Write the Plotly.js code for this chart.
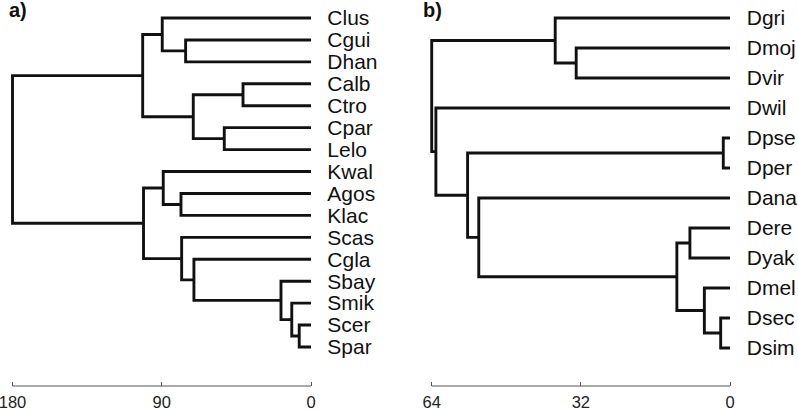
<!DOCTYPE html>
<html>
<head>
<meta charset="utf-8">
<script src="https://cdn.plot.ly/plotly-3.0.1.min.js"></script>
<style>html,body{margin:0;padding:0;background:#fff;}#chart{width:798px;height:409px;}</style>
</head>
<body>
<div id="chart"></div>
<script>
// ---- Panel a) data ----
const leavesA = ["Clus","Cgui","Dhan","Calb","Ctro","Cpar","Lelo","Kwal","Agos","Klac","Scas","Cgla","Sbay","Smik","Scer","Spar"];
// merges: [childA, childB]; indices < leaves.length are leaves, others refer to earlier merges
const mergesA = [[1,2],[3,4],[5,6],[0,16],[17,18],[19,20],[8,9],[7,22],[14,15],[13,24],[12,25],[11,26],[10,27],[23,28],[21,29]];
const heightsA = [75.6, 41.0, 52.3, 89.7, 71.0, 101.5, 78.4, 89.1, 7.1, 11.6, 18.1, 70.6, 78.0, 101.0, 180];
const ticksA = [180, 90, 0];

// ---- Panel b) data ----
const leavesB = ["Dgri","Dmoj","Dvir","Dwil","Dpse","Dper","Dana","Dere","Dyak","Dmel","Dsec","Dsim"];
const mergesB = [[1,2],[0,12],[4,5],[7,8],[10,11],[9,16],[15,17],[6,18],[14,19],[3,20],[13,21]];
const heightsB = [33.0, 37.5, 1.44, 8.6, 2.0, 5.5, 11.4, 53.9, 56.3, 63.1, 64];
const ticksB = [64, 32, 0];

function dendroSegments(leaves, merges, heights) {
  const n = leaves.length;
  const nodeX = [], nodeY = [];
  for (let i = 0; i < n; i++) { nodeX.push(0); nodeY.push(i); }
  const xs = [], ys = [];
  merges.forEach((m, k) => {
    const a = m[0], b = m[1], h = heights[k];
    xs.push(nodeX[a], h, h, nodeX[b], null);
    ys.push(nodeY[a], nodeY[a], nodeY[b], nodeY[b], null);
    nodeX.push(h);
    nodeY.push((nodeY[a] + nodeY[b]) / 2);
  });
  return {xs, ys};
}

const sA = dendroSegments(leavesA, mergesA, heightsA);
const sB = dendroSegments(leavesB, mergesB, heightsB);

const W = 798, PH = 386;
const lineStyle = {color: '#111', width: 2.9};
const traces = [
  {x: sA.xs, y: sA.ys, xaxis: 'x', yaxis: 'y', mode: 'lines', line: lineStyle, hoverinfo: 'skip'},
  {x: sB.xs, y: sB.ys, xaxis: 'x2', yaxis: 'y2', mode: 'lines', line: lineStyle, hoverinfo: 'skip'}
];

// pixel geometry
const a180 = 12.5, a0 = 311, scA = (a0 - a180) / 180;
const b64 = 431.7, b0 = 730, scB = (b0 - b64) / 64;
const padA = 2, padB = 0.8;
const spA = 329 / 15, spB = 30;

const tickFont = {family: 'Liberation Sans, Arial, sans-serif', size: 16.5, color: '#222'};
const labelFont = {family: 'Liberation Sans, Arial, sans-serif', size: 21, color: '#111'};

function xax(range, domain, tv) {
  return {range: range, domain: domain, tickvals: tv, ticktext: tv.map(String), ticks: 'inside', ticklen: 4,
    tickwidth: 1, tickcolor: '#555', showgrid: false, zeroline: false, showline: false, tickfont: tickFont,
    ticklabeloverflow: 'allow', ticklabelstandoff: 4, fixedrange: true};
}
function yax(range, leaves, anchor) {
  return {range: range, anchor: anchor, side: 'right', tickvals: leaves.map((_, i) => i), ticktext: leaves,
    ticks: '', showgrid: false, zeroline: false, showline: false, tickfont: labelFont, ticklabelstandoff: 12,
    fixedrange: true};
}

const layout = {
  width: W, height: 409,
  margin: {l: 0, r: 0, t: 0, b: 409 - PH},
  paper_bgcolor: '#fff', plot_bgcolor: '#fff',
  showlegend: false,
  xaxis: xax([180 + padA, -padA], [(a180 - padA * scA) / W, (a0 + padA * scA) / W], ticksA),
  yaxis: yax([(PH - 18) / spA, -18 / spA], leavesA, 'x'),
  xaxis2: xax([64 + padB, -padB], [(b64 - padB * scB) / W, (b0 + padB * scB) / W], ticksB),
  yaxis2: yax([(PH - 18) / spB, -18 / spB], leavesB, 'x2'),
  shapes: [
    {type: 'line', xref: 'x', yref: 'paper', x0: ticksA[0], x1: ticksA[2], y0: 0, y1: 0, line: {color: '#555', width: 1}},
    {type: 'line', xref: 'x2', yref: 'paper', x0: ticksB[0], x1: ticksB[2], y0: 0, y1: 0, line: {color: '#555', width: 1}}
  ],
  annotations: [
    {text: '<b>a)</b>', xref: 'paper', yref: 'paper', x: 7 / W, y: 1 - 10 / PH, xanchor: 'left', yanchor: 'middle',
     showarrow: false, font: {family: 'Liberation Sans, Arial, sans-serif', size: 20, color: '#111'}},
    {text: '<b>b)</b>', xref: 'paper', yref: 'paper', x: 421 / W, y: 1 - 10 / PH, xanchor: 'left', yanchor: 'middle',
     showarrow: false, font: {family: 'Liberation Sans, Arial, sans-serif', size: 20, color: '#111'}}
  ]
};

Plotly.newPlot('chart', traces, layout, {staticPlot: true, displayModeBar: false});
</script>
</body>
</html>
